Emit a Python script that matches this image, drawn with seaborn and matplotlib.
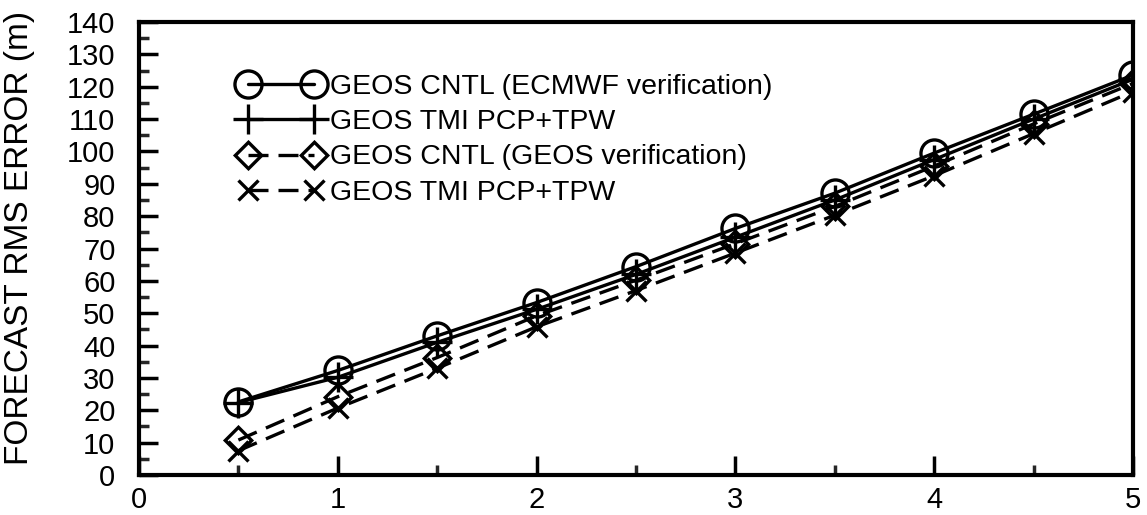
import matplotlib
matplotlib.use("Agg")
import matplotlib.pyplot as plt
import seaborn as sns
import pandas as pd
from matplotlib.ticker import MultipleLocator

sns.set_theme(style="white")
plt.rcParams['font.family'] = ['Liberation Sans', 'DejaVu Sans']

forecast_days = [0.5, 1.0, 1.5, 2.0, 2.5, 3.0, 3.5, 4.0, 4.5, 5.0]
cntl_ecmwf = [22.6, 32.3, 43.0, 53.3, 64.4, 76.2, 87.1, 99.5, 111.5, 123.6]
tmi_ecmwf = [22.4, 30.2, 41.0, 51.2, 62.0, 73.5, 85.0, 97.5, 110.0, 122.3]
cntl_geos = [10.8, 24.2, 36.3, 49.2, 60.2, 71.5, 83.0, 95.5, 108.5, 121.0]
tmi_geos = [7.5, 20.7, 33.0, 45.8, 57.0, 68.6, 80.3, 92.5, 105.5, 118.5]

labels = ["GEOS CNTL (ECMWF verification)", "GEOS TMI PCP+TPW",
          "GEOS CNTL (GEOS verification)", "GEOS TMI PCP+TPW"]
series = [cntl_ecmwf, tmi_ecmwf, cntl_geos, tmi_geos]

fig = plt.figure(figsize=(11.47, 5.15), dpi=100)
ax = fig.add_axes([139/1147, 1-475/515, (1133-139)/1147, (475-22)/515])

markers = ['o', '+', (4, 0, 0), 'x']
msizes = [19.5, 21, 19, 15]
linestyles = ['-', '-', (0, (6, 3)), (0, (6, 3))]

for i, (vals, lab) in enumerate(zip(series, labels)):
    df = pd.DataFrame({"day": forecast_days, "rms": vals})
    sns.lineplot(data=df, x="day", y="rms", ax=ax, color='black',
                 linewidth=2.4, marker='o', markersize=msizes[i],
                 markerfacecolor='none', markeredgecolor='black',
                 markeredgewidth=2.4, label=lab)
    ln = ax.lines[-1]
    ln.set_linestyle(linestyles[i])
    ln.set_marker(markers[i])
    ln.set_markersize(msizes[i])

ax.set_xlim(0, 5)
ax.set_ylim(0, 140)
ax.xaxis.set_major_locator(MultipleLocator(1))
ax.xaxis.set_minor_locator(MultipleLocator(0.5))
ax.yaxis.set_major_locator(MultipleLocator(10))
ax.yaxis.set_minor_locator(MultipleLocator(5))
ax.tick_params(axis='both', which='major', direction='in', length=13.5, width=2.5,
               labelsize=21, colors='black', pad=8)
ax.tick_params(axis='both', which='minor', direction='in', length=7.5, width=2.5)
ax.tick_params(axis='y', which='both', left=True, right=False)
ax.tick_params(axis='x', which='both', bottom=True, top=False)
ax.tick_params(axis='y', which='major', pad=17)
for sp in ax.spines.values():
    sp.set_color('black')
    sp.set_linewidth(3)

ax.set_xlabel("")
ax.set_ylabel("FORECAST RMS ERROR (m)", fontsize=24, color='black')
ax.yaxis.set_label_coords(-0.105, 0.523)

leg = ax.legend(loc='upper left', bbox_to_anchor=(0.09, 0.911), numpoints=2,
                frameon=False, fontsize=20.5, handlelength=2.9, handletextpad=0.25,
                labelspacing=0.33, borderaxespad=0)
for t in leg.get_texts():
    t.set_color('black')

fig.savefig("out.png", dpi=100)
